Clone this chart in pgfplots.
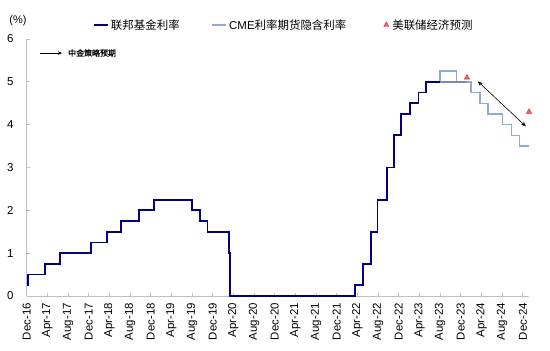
\documentclass[border=0pt]{standalone}
\usepackage{pgfplots}
\pgfplotsset{compat=1.18}
\usepackage{fontspec}
\setmainfont{Liberation Sans}
\newfontfamily\cjk{Noto Sans CJK SC}
\newfontfamily\cjkb{Noto Sans CJK SC}[FakeBold=1.2]
\usetikzlibrary{arrows.meta}
\definecolor{fed}{RGB}{0,0,128}
\definecolor{cme}{RGB}{142,169,219}
\definecolor{blend}{RGB}{128,136,165}
\definecolor{tri}{RGB}{232,110,110}
\definecolor{trie}{RGB}{200,40,40}
\definecolor{axgray}{RGB}{191,191,191}
\pgfplotsset{
  linelegend/.style={legend image code/.code={\draw[##1] (0bp,0bp) -- (14bp,0bp);}},
  marklegend/.style={legend image code/.code={\path[draw=none,fill=none] (0bp,-1bp) rectangle (12bp,1bp); \draw[##1] plot coordinates {(8bp,0bp)};}},
}
\begin{document}
\begin{tikzpicture}
\begin{axis}[
  scale only axis, width=502.3bp, height=257bp,
  xmin=0, xmax=97.2, ymin=0, ymax=6,
  clip=false,
  axis x line*=bottom, axis y line*=left,
  axis line style={axgray, line width=0.9bp},
  xtick={0,4,...,96},
  xticklabels={Dec-16,Apr-17,Aug-17,Dec-17,Apr-18,Aug-18,Dec-18,Apr-19,Aug-19,Dec-19,Apr-20,Aug-20,Dec-20,Apr-21,Aug-21,Dec-21,Apr-22,Aug-22,Dec-22,Apr-23,Aug-23,Dec-23,Apr-24,Aug-24,Dec-24},
  ytick={0,1,...,6},
  tick align=inside, major tick length=3.5bp,
  tick style={axgray, line width=0.8bp},
  /pgf/number format/assume math mode=true,
  ticklabel style={font=\fontsize{11.5}{13}\selectfont, inner sep=0pt},
  xticklabel style={rotate=90, anchor=east},
  xticklabel shift=7bp,
  yticklabel shift=13bp,
  legend style={at={(axis description cs:0.132,1.0545)}, anchor=west, draw=none, fill=none,
    legend columns=3, font=\cjk\fontsize{11.5}{13}\selectfont,
    /tikz/every even column/.append style={column sep=30bp}, inner sep=0pt},
  legend cell align=left,
]
\addplot[const plot, cme, line width=1.5bp, forget plot] coordinates {
 (79.9,5.0) (80,5.25) (83.2,5.0) (86.0,4.75) (87.7,4.5) (89.3,4.25) (92.1,4.0) (93.8,3.75) (95.4,3.5) (97.2,3.5)};
\addplot[const plot, blend, line width=1.5bp, forget plot] coordinates {(80,5.0) (85.2,5.0)};
\addplot[const plot, fed, line width=1.8bp, linelegend] coordinates {
 (0,0.25) (0.3,0.5) (3.5,0.75) (6.4,1.0) (12.4,1.25) (15.6,1.5) (18.3,1.75) (21.7,2.0) (24.6,2.25)
 (32.0,2.0) (33.6,1.75) (35.0,1.5) (39.1,1.0) (39.4,0) (63.5,0.25) (65.1,0.75) (66.6,1.5) (67.9,2.25)
 (69.7,3.0) (71.1,3.75) (72.5,4.25) (74.2,4.5) (75.8,4.75) (77.3,5.0) (80,5.0)};
\addlegendentry{联邦基金利率}
\addlegendimage{cme, line width=1.5bp, linelegend}
\addlegendentry{{\fontspec{Liberation Sans}CME}利率期货隐含利率}
\addplot[only marks, mark=triangle*, mark size=3bp, mark options={fill=tri, draw=trie, line width=0.4bp}, marklegend] coordinates {(85.2,5.1) (97.2,4.3)};
\addlegendentry{美联储经济预测}
\addplot[{Stealth[length=5bp,width=4bp]}-{Stealth[length=5bp,width=4bp]}, black, line width=0.6bp, forget plot] coordinates {(87.3,5.01) (96.6,3.96)};
\node[font=\fontsize{11}{13}\selectfont] at ([xshift=-8.7bp,yshift=18bp]axis description cs:0,1) {(\%)};
\draw[-{Stealth[length=4bp,width=3.5bp]}, line width=0.6bp] ([xshift=13.3bp,yshift=-14bp]axis description cs:0,1) -- ++(22bp,0);
\node[anchor=west, font=\cjkb\fontsize{8}{9}\selectfont, inner sep=0pt] at ([xshift=41.3bp,yshift=-14bp]axis description cs:0,1) {中金策略预期};
\end{axis}
\pgfresetboundingbox
\path ([xshift=-26.7bp,yshift=-55bp]current axis.south west) rectangle ([xshift=21bp,yshift=39bp]current axis.north east);
\end{tikzpicture}
\end{document}
